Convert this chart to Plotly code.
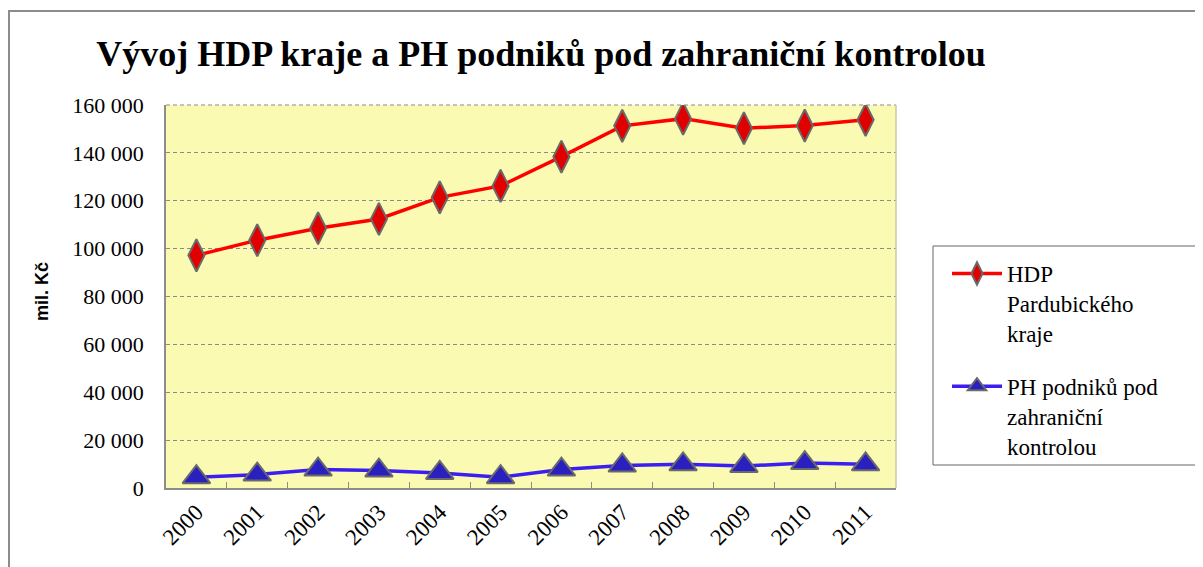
import plotly.graph_objects as go

years = ["2000", "2001", "2002", "2003", "2004", "2005",
         "2006", "2007", "2008", "2009", "2010", "2011"]
hdp = [97200, 103500, 108500, 112400, 121400, 126200,
       138400, 151300, 154300, 150300, 151400, 153800]
ph = [4500, 5600, 7700, 7300, 6300, 4500,
      7700, 9400, 9900, 9200, 10400, 9900]
y_ticks = [0, 20000, 40000, 60000, 80000, 100000, 120000, 140000, 160000]
y_labels = ["0", "20 000", "40 000", "60 000", "80 000",
            "100 000", "120 000", "140 000", "160 000"]

serif = "Liberation Serif, Times New Roman, serif"

# page has an 8px body margin, so the figure is 8px smaller and shifted
W, H = 1195, 559
L, R, T, B = 158, 307, 97, 79
pw, ph_ = W - L - R, H - T - B


def px_x(x):
    return (x - 8 - L) / pw


def px_y(y):
    return (H - B - (y - 8)) / ph_


fig = go.Figure()

fig.add_trace(go.Scatter(
    x=years, y=hdp,
    mode="lines+markers",
    name="HDP<br>Pardubického<br>kraje",
    legendgroup="hdp",
    line=dict(color="#ff0000", width=3.5),
    marker=dict(symbol="diamond-tall", size=23, color="#e00000",
                line=dict(color="#6a6a6a", width=2)),
))

fig.add_trace(go.Scatter(
    x=years, y=ph,
    mode="lines+markers",
    name="PH podniků pod<br>zahraniční<br>kontrolou",
    legendgroup="ph",
    line=dict(color="#3a1ff0", width=3.5),
    marker=dict(symbol="triangle-up", size=24, color="#2a20c0",
                line=dict(color="#6a6a6a", width=2)),
))

# outer chart frame (extends past the right and bottom edges)
fig.add_shape(type="rect", xref="paper", yref="paper",
              x0=px_x(9), x1=px_x(1300), y0=px_y(700), y1=px_y(11),
              line=dict(color="#8c8c8c", width=2), layer="below")

# legend box
fig.add_shape(type="rect", xref="paper", yref="paper",
              x0=px_x(933), x1=px_x(1199), y0=px_y(465), y1=px_y(246),
              line=dict(color="#666666", width=1))

# top dashed gridline
fig.add_shape(type="line", xref="paper", yref="paper",
              x0=0, x1=1, y0=1, y1=1,
              line=dict(color="#8c8c8c", width=1, dash="4px,3px"))

# right edge of plot area
fig.add_shape(type="line", xref="paper", yref="paper",
              x0=1, x1=1, y0=0, y1=1,
              line=dict(color="#c8c8a8", width=1.5))

# y-axis title
fig.add_annotation(text="<b>mil. Kč</b>", xref="paper", yref="paper",
                   x=px_x(42), y=px_y(292), textangle=-90, showarrow=False,
                   xanchor="center", yanchor="middle",
                   font=dict(family="Arial", size=18, color="#000000"))

fig.update_xaxes(
    type="category",
    tickangle=-45,
    tickfont=dict(family=serif, size=23, color="#000000"),
    ticks="inside", tickson="boundaries", ticklen=6,
    tickcolor="#8c8c8c",
    showline=True, linecolor="#8c8c8c", linewidth=1.5,
    showgrid=False,
    range=[-0.5, 11.5],
)

# long transparent ticks push the labels away from the axis
fig.update_yaxes(
    range=[0, 160000],
    tickvals=y_ticks, ticktext=y_labels,
    tickfont=dict(family=serif, size=22, color="#000000"),
    ticks="outside", ticklen=16, tickcolor="rgba(0,0,0,0)",
    showline=True, linecolor="#8c8c8c", linewidth=1.5,
    showgrid=True, gridcolor="#8c8c8c", griddash="4px,3px", gridwidth=1,
    zeroline=False,
)

fig.update_layout(
    width=W, height=H,
    margin=dict(l=L, r=R, t=T, b=B),
    paper_bgcolor="#ffffff",
    plot_bgcolor="#fafab2",
    title=dict(text="<b>Vývoj HDP kraje a PH podniků pod zahraniční kontrolou</b>",
               font=dict(family=serif, size=36, color="#000000"),
               x=px_x(541), xref="paper", xanchor="center",
               y=1 - (53 - 8) / H, yref="container", yanchor="middle"),
    showlegend=True,
    legend=dict(x=px_x(947), y=px_y(252), xanchor="left", yanchor="top",
                borderwidth=0, bgcolor="rgba(0,0,0,0)",
                font=dict(family=serif, size=23, color="#000000"),
                valign="top", itemwidth=50, tracegroupgap=20),
)

fig.write_html("out.html")
